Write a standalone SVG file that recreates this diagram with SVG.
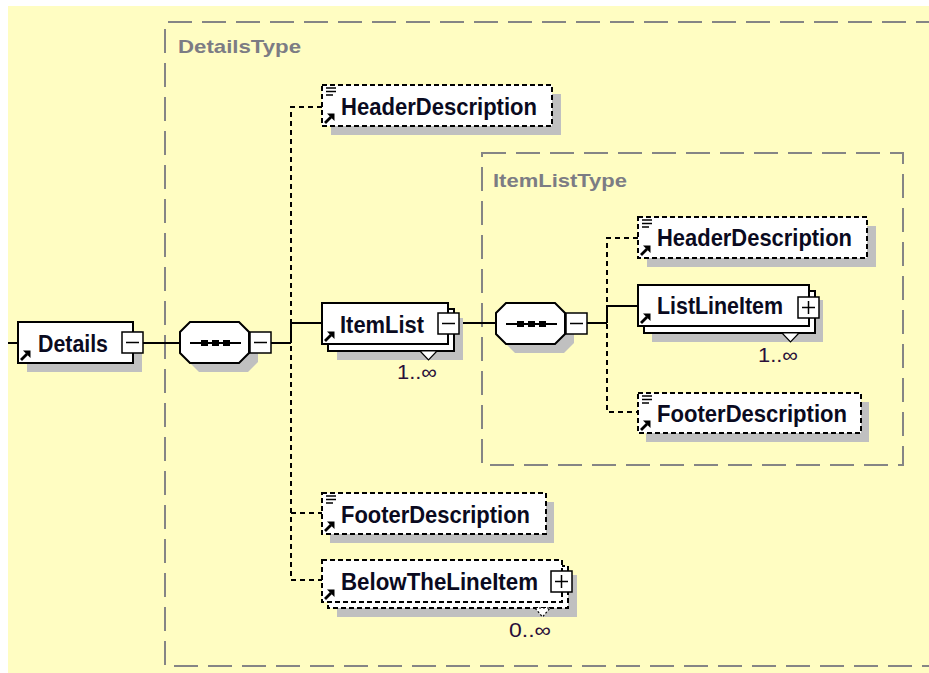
<svg xmlns="http://www.w3.org/2000/svg" xmlns:xlink="http://www.w3.org/1999/xlink" width="929" height="673" viewBox="0 0 929 673">
<style>
.box{fill:#fff;stroke:#000;stroke-width:2}
.opt{stroke-dasharray:5 3}
.sh{fill:#c0c0c0}
.conn{fill:none;stroke:#000;stroke-width:2}
.dash{stroke-dasharray:5 4}
.type{fill:none;stroke:#858585;stroke-width:2;stroke-dasharray:24 10}
.lbl{font-family:"Liberation Sans",Arial,sans-serif;font-weight:bold;font-size:23px;fill:#0a0a20}
.tl{font-family:"Liberation Sans",Arial,sans-serif;font-weight:bold;font-size:19px;fill:#7c7c84}
.card{font-family:"Liberation Sans",Arial,sans-serif;font-size:20px;fill:#2a0f3a}
.pm{fill:#fff;stroke:#000;stroke-width:1.5}
.ic{stroke:#000;stroke-width:1.5}
</style>
<defs>
<g id="arrow">
<line x1="3" y1="-3" x2="9" y2="-9" stroke="#000" stroke-width="2.8"/>
<polygon points="12.5,-12.5 5,-12.5 12.5,-5" fill="#000"/>
</g>
<g id="doc">
<line x1="4" y1="3" x2="14" y2="3" class="ic"/>
<line x1="4" y1="6.5" x2="14" y2="6.5" class="ic"/>
<line x1="4" y1="10" x2="11" y2="10" class="ic"/>
</g>
<g id="minus">
<rect x="0" y="0" width="21" height="21" class="pm"/>
<line x1="4" y1="10.5" x2="17" y2="10.5" stroke="#000" stroke-width="1.5"/>
</g>
<g id="plus">
<rect x="0" y="0" width="21" height="21" class="pm"/>
<line x1="4" y1="10.5" x2="17" y2="10.5" stroke="#000" stroke-width="1.5"/>
<line x1="10.5" y1="4" x2="10.5" y2="17" stroke="#000" stroke-width="1.5"/>
</g>
<g id="seq">
<polygon points="19,9 68,9 78,19 78,40 68,50 19,50 9,40 9,19" class="sh"/>
<polygon points="10,0 59,0 69,10 69,31 59,41 10,41 0,31 0,10" class="box"/>
<line x1="10" y1="21" x2="61" y2="21" stroke="#000" stroke-width="2"/>
<rect x="21" y="18" width="7" height="6" fill="#000"/>
<rect x="32" y="18" width="7" height="6" fill="#000"/>
<rect x="43" y="18" width="7" height="6" fill="#000"/>
</g>
</defs>
<rect x="0" y="0" width="929" height="673" fill="#fff"/>
<rect x="8" y="6" width="921" height="667" fill="#fffdc2"/>

<g id="DetailsType">
<path d="M940,22 H165 V666 H940" class="type"/>
<text x="178" y="53" class="tl" textLength="123" lengthAdjust="spacingAndGlyphs">DetailsType</text>
</g>
<g id="ItemListType">
<rect x="482" y="153" width="421" height="312" class="type"/>
<text x="493" y="187" class="tl" textLength="134" lengthAdjust="spacingAndGlyphs">ItemListType</text>
</g>

<g id="connectors">
<line x1="8" y1="343" x2="18" y2="343" class="conn"/>
<line x1="143" y1="343" x2="180" y2="343" class="conn"/>
<line x1="271" y1="343" x2="291" y2="343" class="conn"/>
<path d="M291,343 V323 H322" class="conn"/>
<path d="M322,107 H291 V580 H322" class="conn dash"/>
<line x1="291" y1="513" x2="322" y2="513" class="conn dash"/>
<line x1="458" y1="323" x2="496" y2="323" class="conn"/>
<line x1="586" y1="323" x2="607" y2="323" class="conn"/>
<path d="M607,323 V306 H638" class="conn"/>
<path d="M638,238 H607 V412 H638" class="conn dash"/>
</g>

<g id="Details">
<rect x="27" y="331" width="115" height="41" class="sh"/>
<rect x="18" y="322" width="115" height="41" class="box"/>
<use xlink:href="#arrow" x="18" y="363"/>
<text x="38" y="352" class="lbl" textLength="70" lengthAdjust="spacingAndGlyphs">Details</text>
<use xlink:href="#minus" x="122" y="332"/>
</g>

<g id="Sequence1">
<use xlink:href="#seq" x="180" y="322"/>
<use xlink:href="#minus" x="250" y="332"/>
</g>

<g id="HeaderDescription1">
<rect x="331" y="94" width="230" height="41" class="sh"/>
<rect x="322" y="85" width="230" height="41" class="box opt"/>
<use xlink:href="#doc" x="322" y="85"/>
<use xlink:href="#arrow" x="322" y="126"/>
<text x="341" y="115" class="lbl" textLength="196" lengthAdjust="spacingAndGlyphs">HeaderDescription</text>
</g>

<g id="ItemList">
<rect x="337" y="318" width="126" height="42" class="sh"/>
<rect x="328" y="309" width="126" height="42" class="box"/>
<rect x="322" y="303" width="126" height="41" class="box"/>
<use xlink:href="#arrow" x="322" y="344"/>
<text x="340" y="333" class="lbl" textLength="84" lengthAdjust="spacingAndGlyphs">ItemList</text>
<use xlink:href="#minus" x="438" y="313"/>
<polygon points="420,351 437,351 428.5,360" fill="#fff" stroke="#000" stroke-width="1.2"/>
<text x="397" y="379" class="card" textLength="40" lengthAdjust="spacingAndGlyphs">1..∞</text>
</g>

<g id="Sequence2">
<use xlink:href="#seq" x="496" y="303"/>
<use xlink:href="#minus" x="566" y="313"/>
</g>

<g id="HeaderDescription2">
<rect x="647" y="226" width="229" height="41" class="sh"/>
<rect x="638" y="217" width="229" height="41" class="box opt"/>
<use xlink:href="#doc" x="638" y="217"/>
<use xlink:href="#arrow" x="638" y="258"/>
<text x="657" y="246" class="lbl" textLength="195" lengthAdjust="spacingAndGlyphs">HeaderDescription</text>
</g>

<g id="ListLineItem">
<rect x="652" y="300" width="171" height="42" class="sh"/>
<rect x="644" y="291" width="171" height="42" class="box"/>
<rect x="638" y="285" width="171" height="41" class="box"/>
<use xlink:href="#arrow" x="638" y="326"/>
<text x="657" y="314" class="lbl" textLength="126" lengthAdjust="spacingAndGlyphs">ListLineItem</text>
<use xlink:href="#plus" x="798" y="297"/>
<polygon points="782,333 799,333 790.5,342" fill="#fff" stroke="#000" stroke-width="1.2"/>
<text x="758" y="362" class="card" textLength="40" lengthAdjust="spacingAndGlyphs">1..∞</text>
</g>

<g id="FooterDescription2">
<rect x="646" y="402" width="223" height="40" class="sh"/>
<rect x="638" y="393" width="223" height="40" class="box opt"/>
<use xlink:href="#doc" x="638" y="393"/>
<use xlink:href="#arrow" x="638" y="433"/>
<text x="657" y="422" class="lbl" textLength="190" lengthAdjust="spacingAndGlyphs">FooterDescription</text>
</g>

<g id="FooterDescription1">
<rect x="330" y="502" width="224" height="41" class="sh"/>
<rect x="322" y="493" width="224" height="41" class="box opt"/>
<use xlink:href="#doc" x="322" y="493"/>
<use xlink:href="#arrow" x="322" y="534"/>
<text x="341" y="523" class="lbl" textLength="189" lengthAdjust="spacingAndGlyphs">FooterDescription</text>
</g>

<g id="BelowTheLineItem">
<rect x="337" y="575" width="240" height="42" class="sh"/>
<rect x="328" y="566" width="240" height="42" class="box opt"/>
<rect x="322" y="560" width="240" height="42" class="box opt"/>
<use xlink:href="#arrow" x="322" y="602"/>
<text x="341" y="590" class="lbl" textLength="197" lengthAdjust="spacingAndGlyphs">BelowTheLineItem</text>
<use xlink:href="#plus" x="551" y="571"/>
<polygon points="535,608 550,608 542.5,617" fill="#fff" stroke="#000" stroke-width="1.2" stroke-dasharray="2 2"/>
<text x="509" y="637" class="card" textLength="42" lengthAdjust="spacingAndGlyphs">0..∞</text>
</g>
</svg>
